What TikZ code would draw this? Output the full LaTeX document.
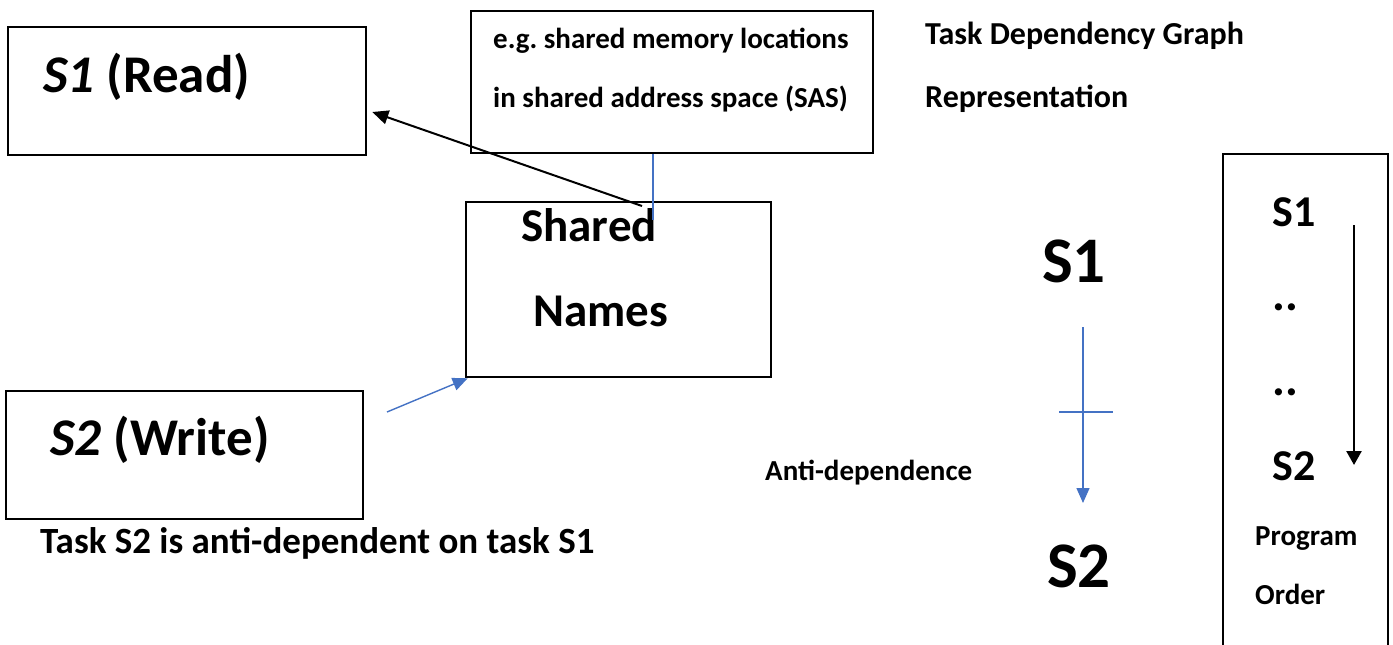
\documentclass[tikz,border=0pt]{standalone}
\usepackage{fontspec}
\setmainfont{Carlito}
\usetikzlibrary{arrows.meta,calc}
\definecolor{offblue}{HTML}{4472C4}
\frenchspacing
\tikzset{
  boxnode/.style={draw=black,line width=2.6pt,rectangle,inner sep=0pt},
  txt/.style={anchor=base west,inner sep=0pt,font=\bfseries},
  blackarrow/.style={draw=black,line width=2pt,-{Triangle[length=16pt,width=14pt]}},
  bluearrow/.style={draw=offblue,line width=1.4pt,-{Triangle[length=15pt,width=13pt]}},
  blueline/.style={draw=offblue,line width=1.3pt},
}
\newcommand{\fs}[1]{\fontsize{#1}{#1}\selectfont}
\begin{document}
\begin{tikzpicture}[x=1pt,y=-1pt]
\useasboundingbox (0,0) rectangle (1393,645);
% boxes
\node[boxnode,minimum width=358pt,minimum height=128pt] (s1box) at (187,91) {};
\node[boxnode,minimum width=402pt,minimum height=142pt] (egbox) at (672,82) {};
\node[boxnode,minimum width=305pt,minimum height=175pt] (shbox) at (618.5,289.5) {};
\node[boxnode,minimum width=357pt,minimum height=128pt] (s2box) at (184.5,455) {};
\draw[line width=2.6pt] (1223,645) |- (1388,154) -- (1388,645);
% texts
\node[txt,font=\bfseries\fs{53}] (s1t) at (43,92) {\textit{S1} (Read)};
\node[txt,font=\bfseries\fs{53}] (s2t) at (50,455) {\textit{S2} (Write)};
\node[txt,font=\bfseries\fs{37}] (cap) at (40,553) {Task S2 is anti-dependent on task S1};
\node[txt,font=\bfseries\fs{29}] (eg1) at (493,48) {e.g.\ shared memory locations};
\node[txt,font=\bfseries\fs{29}] (eg2) at (493,107) {in shared address space (SAS)};
\node[txt,font=\bfseries\fs{47}] (shared) at (521,241) {Shared};
\node[txt,font=\bfseries\fs{47}] (names) at (533,326) {Names};
\node[txt,font=\bfseries\fs{32}] (tdg1) at (925,45) {Task Dependency Graph};
\node[txt,font=\bfseries\fs{32}] (tdg2) at (925,107) {Representation};
\node[txt,font=\bfseries\fs{65}] (bigs1) at (1042,282) {S1};
\node[txt,font=\bfseries\fs{65}] (bigs2) at (1047,587) {S2};
\node[txt,font=\bfseries\fs{29}] (anti) at (765,480) {Anti-dependence};
\node[txt,font=\bfseries\fs{44}] (ps1) at (1272,226) {S1};
\node[txt,font=\bfseries\fs{48}] (dots1) at (1272,310) {..};
\node[txt,font=\bfseries\fs{48}] (dots2) at (1272,395) {..};
\node[txt,font=\bfseries\fs{44}] (ps2) at (1272,480) {S2};
\node[txt,font=\bfseries\fs{29}] (prog) at (1255,545) {Program};
\node[txt,font=\bfseries\fs{29}] (order) at (1255,604) {Order};
% connectors
\coordinate (rdstart) at (642,206);
\draw[blackarrow] (rdstart) -- ($(s1box.east)+(5,21)$);
\coordinate (vlend) at (653,220);
\draw[blueline] ($(egbox.south)+(-19,0)$) -- (vlend);
\coordinate (wrstart) at (387,412);
\draw[bluearrow] (wrstart) -- ($(shbox.south west)+(3,0)$);
\coordinate (depstart) at (1083,327);
\coordinate (depend) at (1083,503);
\draw[bluearrow] (depstart) -- (depend);
\coordinate (tickl) at (1059,412);
\coordinate (tickr) at (1113,412);
\draw[blueline] (tickl) -- (tickr);
\coordinate (postart) at (1354,225);
\coordinate (poend) at (1354,465);
\draw[draw=black,line width=2.4pt,-{Triangle[length=14pt,width=15pt]}] (postart) -- (poend);
\end{tikzpicture}
\end{document}
